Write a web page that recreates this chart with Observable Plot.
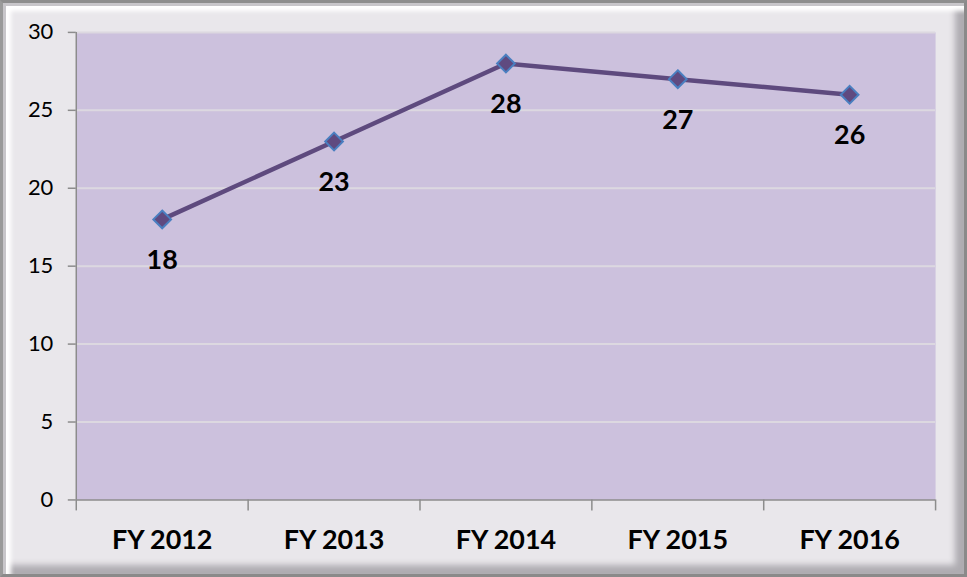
<!DOCTYPE html>
<html><head><meta charset="utf-8">
<script src="https://cdn.jsdelivr.net/npm/d3@7"></script>
<script src="https://cdn.jsdelivr.net/npm/@observablehq/plot@0.6"></script>
<style>
html,body{margin:0;padding:0;background:#fff;}
#frame{position:relative;width:967px;height:577px;box-sizing:border-box;background:#e9e7eb;
border-top:3px solid #8e8e8e;border-left:3px solid #9a9a9a;border-right:3px solid #8a8a8a;border-bottom:3px solid #8a8a8a;
box-shadow: inset 3px 3px 0 #c8c6ca, inset 8px 8px 4px #ffffff, inset -9px -9px 6px #aeacb1;}
#chart{position:absolute;left:-3px;top:-3px;}
svg{font-family:Lato,"Open Sans",sans-serif;}
</style></head>
<body>
<div id="frame"><div id="chart"></div></div>
<script>
const categories = ["FY 2012","FY 2013","FY 2014","FY 2015","FY 2016"];
const values = [18,23,28,27,26];
const yTicks = [0,5,10,15,20,25,30];

const data = categories.map((c,i)=>({cat:c, pos:i+0.5, value:values[i]}));
const boundaries = d3.range(0, categories.length+1);

const chart = Plot.plot({
  width: 967, height: 577,
  marginLeft: 76, marginRight: 29, marginTop: 32, marginBottom: 76,
  style: {background: "transparent", fontFamily: "Lato, 'Open Sans', sans-serif"},
  x: {type: "linear", domain: [0, categories.length], axis: null, label: null},
  y: {domain: [0, 30], axis: null, label: null},
  marks: [
    Plot.frame({fill: "#ccc1dd", stroke: null}),
    Plot.ruleY(yTicks.filter(d=>d>0), {stroke: "#dcd8e0", strokeWidth: 2}),
    Plot.ruleY([0], {stroke: "#8c8c8c", strokeWidth: 1.5}),
    Plot.ruleX([0], {stroke: "#8c8c8c", strokeWidth: 1.5}),
    Plot.axisY({ticks: yTicks, label: null, tickSize: 8, tickPadding: 15, fontSize: 22, stroke: "#8c8c8c", strokeWidth: 1.5, color: "#000", tickFormat: d=>d}),
    Plot.axisX({ticks: boundaries, label: null, tickSize: 11, tickFormat: () => "", stroke: "#8c8c8c", strokeWidth: 1.5}),
    Plot.axisX({ticks: data.map(d=>d.pos), label: null, tickSize: 0, tickPadding: 30, fontSize: 27, fontWeight: "bold", color: "#000", tickFormat: (d) => categories[Math.round(d-0.5)]}),
    Plot.line(data, {x: "pos", y: "value", stroke: "#5e4a7e", strokeWidth: 4.5}),
    Plot.dot(data, {x: "pos", y: "value", symbol: "diamond2", r: 8, fill: "#5f4a80", stroke: "#4a7fc0", strokeWidth: 2}),
    Plot.text(data, {x: "pos", y: "value", text: d=>String(d.value), dy: 41, fontSize: 27, fontWeight: "bold", fill: "#000"})
  ]
});
document.getElementById("chart").appendChild(chart);
</script>
</body></html>
